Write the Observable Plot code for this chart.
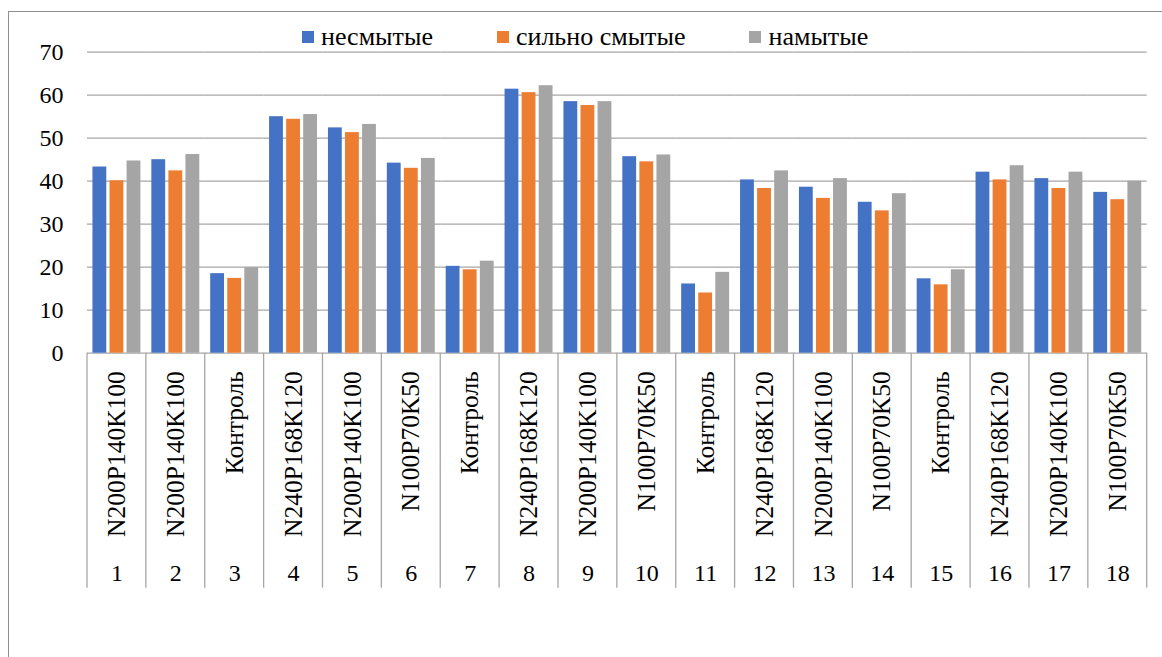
<!DOCTYPE html>
<html>
<head>
<meta charset="utf-8">
<script src="https://cdn.jsdelivr.net/npm/d3@7"></script>
<script src="https://cdn.jsdelivr.net/npm/@observablehq/plot@0.6"></script>
<style>
  body { margin: 0; background: #fff; overflow: hidden; }
  #wrap { position: relative; width: 1162px; height: 657px; overflow: hidden; font-family: "Liberation Serif", "DejaVu Serif", "Times New Roman", Times, serif; }
  #frame { position: absolute; left: 8px; top: 11px; width: 1200px; height: 700px; border: 1.5px solid #8f8f8f; box-sizing: border-box; }
  #chart { position: absolute; left: 0; top: 0; width: 1162px; height: 657px; }
  #chart svg { max-width: none !important; }
  #legend { position: absolute; left: 302px; top: 24px; display: flex; gap: 64px; font-size: 26px; line-height: 26px; color: #000; }
  #legend .item { display: flex; align-items: flex-start; gap: 7px; white-space: nowrap; }
  #legend .sw { width: 12px; height: 12px; margin-top: 7px; flex: none; }
</style>
</head>
<body>
<div id="wrap">
  <div id="frame"></div>
  <div id="chart"></div>
  <div id="legend"></div>
</div>
<script>
const groups = ["1","2","3","4","5","6","7","8","9","10","11","12","13","14","15","16","17","18"];
const treatments = ["N200P140K100","N200P140K100","Контроль","N240P168K120","N200P140K100","N100P70K50","Контроль","N240P168K120","N200P140K100","N100P70K50","Контроль","N240P168K120","N200P140K100","N100P70K50","Контроль","N240P168K120","N200P140K100","N100P70K50"];
const series = ["несмытые", "сильно смытые", "намытые"];
const unwashed  = [43.3,45.0,18.5,55.0,52.4,44.2,20.2,61.4,58.5,45.7,16.1,40.3,38.6,35.1,17.3,42.1,40.6,37.4];
const eroded    = [40.1,42.4,17.4,54.4,51.3,43.0,19.4,60.6,57.6,44.5,14.0,38.3,36.0,33.1,15.9,40.3,38.3,35.7];
const deposited = [44.7,46.2,19.9,55.5,53.2,45.3,21.4,62.2,58.5,46.1,18.8,42.4,40.6,37.1,19.4,43.6,42.1,40.0];
const colors = ["#4472C4", "#ED7D31", "#A5A5A5"];
const yTicks = [0,10,20,30,40,50,60,70];

const seriesValues = [unwashed, eroded, deposited];
const table = [];
groups.forEach((g, i) => series.forEach((s, j) => table.push({group: g, series: s, value: seriesValues[j][i]})));
const cats = groups.map((g, i) => ({group: g, treatment: treatments[i]}));

const serif = "'Liberation Serif', 'DejaVu Serif', 'Times New Roman', Times, serif";
const chart = Plot.plot({
  width: 1162,
  height: 657,
  marginLeft: 87,
  marginRight: 15.3,
  marginTop: 51.7,
  marginBottom: 304.3,
  style: {fontFamily: serif, fontSize: "24px", color: "#000", background: "transparent", overflow: "visible"},
  fx: {domain: groups, padding: 0, round: false, axis: null},
  x: {domain: series, paddingInner: 0.19, paddingOuter: 0.32, round: false, axis: null},
  y: {domain: [0, 70], ticks: yTicks, tickSize: 0, tickPadding: 24, label: null},
  color: {domain: series, range: colors},
  marks: [
    Plot.ruleY(yTicks, {stroke: "#a6a6a6", strokeWidth: 1.3}),
    Plot.barY(table, {fx: "group", x: "series", y: "value", fill: "series"}),
    Plot.text(cats, {fx: "group", text: "treatment", frameAnchor: "bottom", rotate: -90, textAnchor: "end", lineAnchor: "middle", dy: 18, fill: "#000", fontFamily: serif, fontSize: 25.5}),
    Plot.text(cats, {fx: "group", text: "group", frameAnchor: "bottom", lineAnchor: "middle", dy: 220, fill: "#000", fontFamily: serif})
  ]
});
document.getElementById("chart").appendChild(chart);

// category separators below the axis, placed with the fx scale
const fx = chart.scale("fx");
const yScale = chart.scale("y");
const y0 = yScale.apply(0);
const bw = fx.bandwidth;
const xs = groups.map(g => fx.apply(g));
xs.push(fx.apply(groups[groups.length - 1]) + bw);
const svg = d3.select(chart);
svg.append("g").selectAll("line").data(xs).join("line")
  .attr("x1", d => d).attr("x2", d => d)
  .attr("y1", y0).attr("y2", y0 + 235)
  .attr("stroke", "#a6a6a6").attr("stroke-width", 1.3);

// legend
const legend = d3.select("#legend");
series.forEach((s, i) => {
  const item = legend.append("div").attr("class", "item");
  item.append("div").attr("class", "sw").style("background", colors[i]);
  item.append("span").text(s);
});
</script>
</body>
</html>
